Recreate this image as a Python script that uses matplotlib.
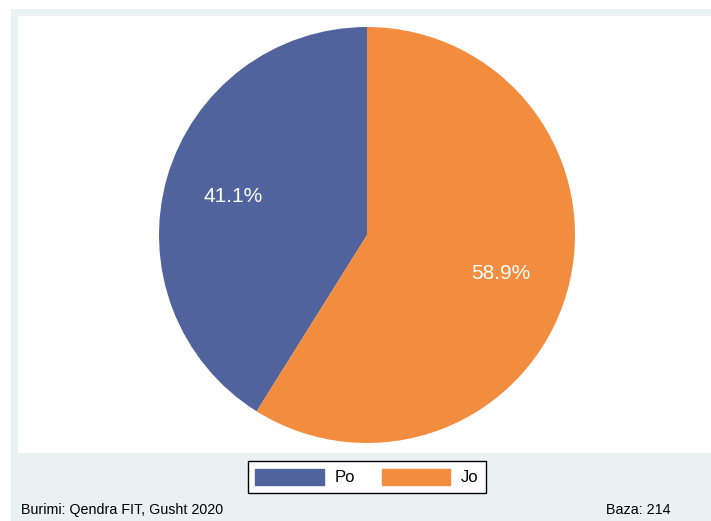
import matplotlib.pyplot as plt
import matplotlib.patches as mpatches

labels = ['Po', 'Jo']
values = [41.1, 58.9]
colors = ['#50639C', '#F28C3E']
source_text = 'Burimi: Qendra FIT, Gusht 2020'
base_text = 'Baza: 214'

W, H = 711, 521
plt.rcParams['font.family'] = ['Liberation Sans', 'DejaVu Sans']

fig = plt.figure(figsize=(W / 100, H / 100), dpi=100)

# grey graph region, white plot region (pixel coords -> figure fractions)
def box(x0, y0, x1, y1):
    return [x0 / W, 1 - y1 / H, (x1 - x0) / W, (y1 - y0) / H]

bg = box(11, 9, 711, 521)
fig.patches.append(mpatches.Rectangle((bg[0], bg[1]), bg[2], bg[3], transform=fig.transFigure,
                                      facecolor='#EAF1F3', edgecolor='none', zorder=-2))
pr = box(18, 16, 711, 453)
fig.patches.append(mpatches.Rectangle((pr[0], pr[1]), pr[2], pr[3], transform=fig.transFigure,
                                      facecolor='white', edgecolor='none', zorder=-1))

# pie axes: centre (367,235), radius ~208
r = 208
ax = fig.add_axes(box(367 - r, 235 - r, 367 + r, 235 + r))
ax.patch.set_visible(False)
wedges, texts, autotexts = ax.pie(values, colors=colors, startangle=90, counterclock=True,
                                  autopct='%1.1f%%', pctdistance=0.67,
                                  wedgeprops=dict(linewidth=0),
                                  textprops=dict(color='white', fontsize=15))
ax.set_xlim(-1, 1)
ax.set_ylim(-1, 1)
ax.set_aspect('equal')
ax.axis('off')

handles = [mpatches.Patch(color=c, label=l) for c, l in zip(colors, labels)]
leg = fig.legend(handles=handles, ncol=2, loc='center', bbox_to_anchor=(367 / W, 1 - 477 / H),
                 fontsize=12, frameon=True, fancybox=False, edgecolor='black', facecolor='white',
                 framealpha=1, handlelength=4.1, handleheight=1.1, columnspacing=1.6,
                 handletextpad=0.65, borderpad=0.45, borderaxespad=0)
leg.get_frame().set_linewidth(1.0)

fig.text(21 / W, 1 - 510 / H, source_text, fontsize=10.3, va='center', ha='left')
fig.text(671 / W, 1 - 510 / H, base_text, fontsize=10.3, va='center', ha='right')

fig.savefig('out.png', dpi=100, facecolor='white')
